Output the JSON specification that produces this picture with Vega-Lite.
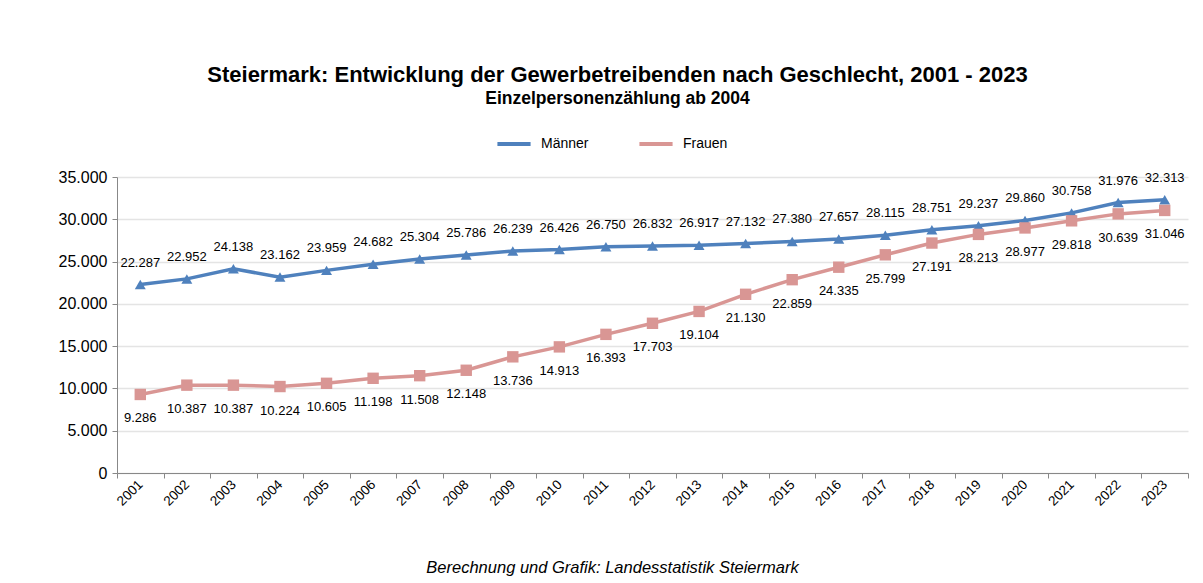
{
  "$schema": "https://vega.github.io/schema/vega-lite/v6.json",
  "width": 1071,
  "height": 296,
  "autosize": {"type": "none"},
  "padding": {"left": 117, "top": 177, "right": 15, "bottom": 110},
  "background": "white",
  "config": {
    "locale": {"number": {"decimal": ",", "thousands": ".", "grouping": [3], "currency": ["", " €"]}},
    "font": "Liberation Sans",
    "view": {"stroke": null}
  },
  "title": {
    "text": "Steiermark: Entwicklung der Gewerbetreibenden nach Geschlecht, 2001 - 2023",
    "subtitle": "Einzelpersonenzählung ab 2004",
    "anchor": "middle",
    "frame": "group",
    "dx": -35,
    "offset": 17,
    "fontSize": 22,
    "fontWeight": "bold",
    "color": "#000000",
    "subtitleFontSize": 17.5,
    "subtitleFontWeight": "bold",
    "subtitleColor": "#000000",
    "subtitlePadding": 3
  },
  "data": {
    "values": [
      {"Jahr": "2001", "Geschlecht": "Männer", "Wert": 22287},
      {"Jahr": "2002", "Geschlecht": "Männer", "Wert": 22952},
      {"Jahr": "2003", "Geschlecht": "Männer", "Wert": 24138},
      {"Jahr": "2004", "Geschlecht": "Männer", "Wert": 23162},
      {"Jahr": "2005", "Geschlecht": "Männer", "Wert": 23959},
      {"Jahr": "2006", "Geschlecht": "Männer", "Wert": 24682},
      {"Jahr": "2007", "Geschlecht": "Männer", "Wert": 25304},
      {"Jahr": "2008", "Geschlecht": "Männer", "Wert": 25786},
      {"Jahr": "2009", "Geschlecht": "Männer", "Wert": 26239},
      {"Jahr": "2010", "Geschlecht": "Männer", "Wert": 26426},
      {"Jahr": "2011", "Geschlecht": "Männer", "Wert": 26750},
      {"Jahr": "2012", "Geschlecht": "Männer", "Wert": 26832},
      {"Jahr": "2013", "Geschlecht": "Männer", "Wert": 26917},
      {"Jahr": "2014", "Geschlecht": "Männer", "Wert": 27132},
      {"Jahr": "2015", "Geschlecht": "Männer", "Wert": 27380},
      {"Jahr": "2016", "Geschlecht": "Männer", "Wert": 27657},
      {"Jahr": "2017", "Geschlecht": "Männer", "Wert": 28115},
      {"Jahr": "2018", "Geschlecht": "Männer", "Wert": 28751},
      {"Jahr": "2019", "Geschlecht": "Männer", "Wert": 29237},
      {"Jahr": "2020", "Geschlecht": "Männer", "Wert": 29860},
      {"Jahr": "2021", "Geschlecht": "Männer", "Wert": 30758},
      {"Jahr": "2022", "Geschlecht": "Männer", "Wert": 31976},
      {"Jahr": "2023", "Geschlecht": "Männer", "Wert": 32313},
      {"Jahr": "2001", "Geschlecht": "Frauen", "Wert": 9286},
      {"Jahr": "2002", "Geschlecht": "Frauen", "Wert": 10387},
      {"Jahr": "2003", "Geschlecht": "Frauen", "Wert": 10387},
      {"Jahr": "2004", "Geschlecht": "Frauen", "Wert": 10224},
      {"Jahr": "2005", "Geschlecht": "Frauen", "Wert": 10605},
      {"Jahr": "2006", "Geschlecht": "Frauen", "Wert": 11198},
      {"Jahr": "2007", "Geschlecht": "Frauen", "Wert": 11508},
      {"Jahr": "2008", "Geschlecht": "Frauen", "Wert": 12148},
      {"Jahr": "2009", "Geschlecht": "Frauen", "Wert": 13736},
      {"Jahr": "2010", "Geschlecht": "Frauen", "Wert": 14913},
      {"Jahr": "2011", "Geschlecht": "Frauen", "Wert": 16393},
      {"Jahr": "2012", "Geschlecht": "Frauen", "Wert": 17703},
      {"Jahr": "2013", "Geschlecht": "Frauen", "Wert": 19104},
      {"Jahr": "2014", "Geschlecht": "Frauen", "Wert": 21130},
      {"Jahr": "2015", "Geschlecht": "Frauen", "Wert": 22859},
      {"Jahr": "2016", "Geschlecht": "Frauen", "Wert": 24335},
      {"Jahr": "2017", "Geschlecht": "Frauen", "Wert": 25799},
      {"Jahr": "2018", "Geschlecht": "Frauen", "Wert": 27191},
      {"Jahr": "2019", "Geschlecht": "Frauen", "Wert": 28213},
      {"Jahr": "2020", "Geschlecht": "Frauen", "Wert": 28977},
      {"Jahr": "2021", "Geschlecht": "Frauen", "Wert": 29818},
      {"Jahr": "2022", "Geschlecht": "Frauen", "Wert": 30639},
      {"Jahr": "2023", "Geschlecht": "Frauen", "Wert": 31046}
    ]
  },
  "encoding": {
    "x": {
      "field": "Jahr",
      "type": "ordinal",
      "bandPosition": 0.5,
      "scale": {"type": "band", "paddingInner": 0, "paddingOuter": 0},
      "axis": {
        "title": "Berechnung und Grafik: Landesstatistik Steiermark",
        "titleFont": "Liberation Sans",
        "titleFontStyle": "italic",
        "titleFontWeight": "normal",
        "titleFontSize": 16.5,
        "titleColor": "#000000",
        "titlePadding": 52,
        "titleX": 495,
        "tickBand": "extent",
        "labelAngle": -45,
        "labelAlign": "right",
        "labelBaseline": "middle",
        "labelFontSize": 13.5,
        "labelColor": "#000000",
        "labelPadding": 4,
        "domainColor": "#888888",
        "tickColor": "#888888",
        "tickSize": 5,
        "grid": false
      }
    },
    "y": {
      "field": "Wert",
      "type": "quantitative",
      "scale": {"domain": [0, 35000], "nice": false},
      "axis": {
        "title": null,
        "values": [0, 5000, 10000, 15000, 20000, 25000, 30000, 35000],
        "format": ",d",
        "labelFontSize": 16,
        "labelColor": "#000000",
        "labelPadding": 5,
        "domainColor": "#888888",
        "tickColor": "#888888",
        "tickSize": 5,
        "gridColor": "#e4e4e4",
        "gridWidth": 1.5
      }
    },
    "color": {
      "field": "Geschlecht",
      "type": "nominal",
      "scale": {"domain": ["Männer", "Frauen"], "range": ["#4f81bd", "#d99694"]},
      "legend": {
        "title": null,
        "orient": "none",
        "legendX": 378,
        "legendY": -52,
        "direction": "horizontal",
        "symbolType": "stroke",
        "symbolStrokeWidth": 4,
        "symbolSize": 1100,
        "labelFontSize": 14,
        "labelColor": "#000000",
        "labelOffset": 8,
        "columnPadding": 42
      }
    }
  },
  "layer": [
    {
      "mark": {"type": "line", "strokeWidth": 3.5},
      "encoding": {}
    },
    {
      "transform": [{"filter": "datum.Geschlecht === 'Männer'"}],
      "mark": {"type": "point", "shape": "triangle-up", "filled": true, "opacity": 1, "size": 120},
      "encoding": {}
    },
    {
      "transform": [{"filter": "datum.Geschlecht === 'Frauen'"}],
      "mark": {"type": "point", "shape": "square", "filled": true, "opacity": 1, "size": 130},
      "encoding": {}
    },
    {
      "transform": [{"filter": "datum.Geschlecht === 'Männer'"}],
      "mark": {"type": "text", "dy": -22, "fontSize": 13, "color": "#000000"},
      "encoding": {"text": {"field": "Wert", "type": "quantitative", "format": ",d"}, "color": {"value": "#000000"}}
    },
    {
      "transform": [{"filter": "datum.Geschlecht === 'Frauen'"}],
      "mark": {"type": "text", "dy": 24, "fontSize": 13, "color": "#000000"},
      "encoding": {"text": {"field": "Wert", "type": "quantitative", "format": ",d"}, "color": {"value": "#000000"}}
    }
  ]
}
